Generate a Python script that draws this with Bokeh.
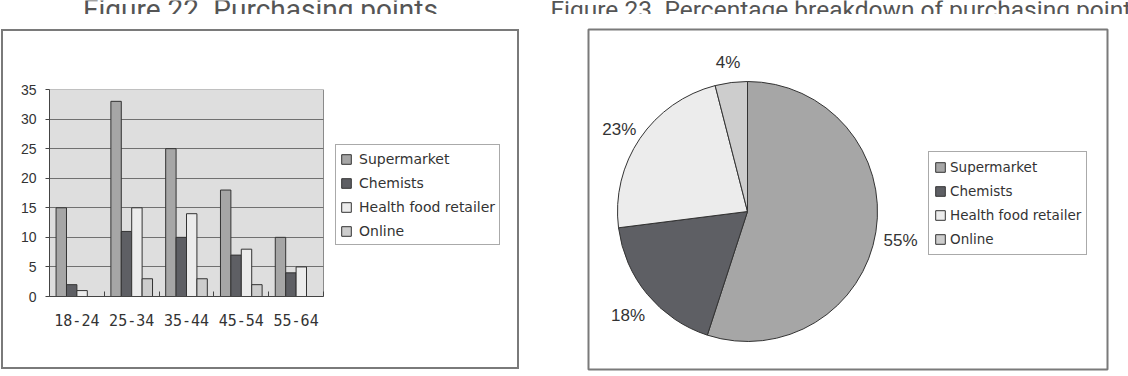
import numpy as np
from bokeh.plotting import figure
from bokeh.models import (ColumnDataSource, FixedTicker, Legend, LegendItem, Range1d, Spacer, Grid)
from bokeh.layouts import row, column
from bokeh.transform import dodge
from bokeh.core.properties import value
from bokeh.embed import file_html
from bokeh.resources import INLINE

# ---------------- data ----------------
age_groups = ["18-24", "25-34", "35-44", "45-54", "55-64"]
supermarket = [15, 33, 25, 18, 10]
chemists = [2, 11, 10, 7, 4]
health_food = [1, 15, 14, 8, 5]
online = [0, 3, 3, 2, 0]
series_names = ["Supermarket", "Chemists", "Health food retailer", "Online"]
series_colors = ["#a6a6a6", "#5e5f64", "#ececec", "#cdcdcd"]
y_ticks = [0, 5, 10, 15, 20, 25, 30, 35]
pie_shares = [55, 18, 23, 4]
pie_labels = ["55%", "18%", "23%", "4%"]
titles = ["Figure 22. Purchasing points", "Figure 23. Percentage breakdown of purchasing points"]

TEXT = "#333333"
BOX = "#7a7a7a"

# ---------------- title strip ----------------
pt = figure(width=1128, height=14, x_range=Range1d(0, 1128), y_range=Range1d(0, 14),
            x_axis_type=None, y_axis_type=None, output_backend="svg", toolbar_location=None,
            min_border=0, outline_line_color=None, frame_align=False)
pt.grid.visible = False
pt.text(x=[260], y=[5], text=[titles[0]], text_align="center", text_baseline="alphabetic",
        text_font=value("Roboto"), text_font_size="28px", text_color="#555555")
pt.text(x=[550], y=[5], text=[titles[1]], text_align="left", text_baseline="alphabetic",
        text_font=value("Roboto"), text_font_size="24.5px", text_color="#555555")

# ---------------- bar chart ----------------
keys = ["supermarket", "chemists", "health_food", "online"]
n = len(age_groups)
xpos = np.arange(n) + 0.5
src = ColumnDataSource(dict(x=xpos, supermarket=supermarket, chemists=chemists,
                            health_food=health_food, online=online))

plot_w, frame_w = 274, 466          # bar area width / full frame width (legend lives in the frame)
p1 = figure(width=514, height=336, x_range=Range1d(0, n * frame_w / plot_w),
            y_range=Range1d(0, y_ticks[-1]),
            output_backend="svg", toolbar_location=None, frame_align=False,
            min_border_left=46, min_border_right=514 - 46 - frame_w, min_border_top=58,
            min_border_bottom=71)
p1.background_fill_color = "white"
p1.border_fill_color = "white"
p1.outline_line_color = None

# grey plot area
p1.quad(left=0, right=n, bottom=0, top=y_ticks[-1], fill_color="#dedede",
        line_color="#8a8a8a", line_width=1, level="image")

bar_w = 0.19
renderers = []
for i, (k, c) in enumerate(zip(keys, series_colors)):
    off = (i - 1.5) * bar_w
    r = p1.vbar(x=dodge("x", off, range=p1.x_range), top=k, width=bar_w, bottom=0,
                source=src, fill_color=c, line_color="#333333", line_width=1)
    renderers.append(r)

xa = p1.xaxis[0]
xa.bounds = (0, n)
xa.ticker = FixedTicker(ticks=list(xpos), minor_ticks=list(range(n + 1)))
xa.major_label_overrides = {float(v): g for v, g in zip(xpos, age_groups)}
xa.major_tick_in = 0
xa.major_tick_out = 0
xa.minor_tick_in = 5
xa.minor_tick_out = 0
xa.minor_tick_line_color = "#444444"
xa.axis_line_color = "#444444"
xa.major_label_standoff = 17
xa.major_label_text_font = "DejaVu Sans Mono"
xa.major_label_text_font_size = "15px"
xa.major_label_text_color = TEXT

ya = p1.yaxis[0]
ya.ticker = FixedTicker(ticks=y_ticks)
ya.minor_tick_line_color = None
ya.major_tick_in = 0
ya.major_tick_out = 4
ya.major_tick_line_color = "#444444"
ya.axis_line_color = "#444444"
ya.major_label_standoff = 9
ya.major_label_text_font = "Liberation Sans"
ya.major_label_text_font_size = "14px"
ya.major_label_text_color = TEXT

p1.xgrid.visible = False
if "cross_bounds" in Grid.properties():
    p1.ygrid.cross_bounds = (0, n)
    p1.ygrid.grid_line_color = "#707070"
    p1.ygrid.level = "underlay"
else:
    p1.ygrid.visible = False
    p1.segment(x0=0, x1=n, y0=y_ticks, y1=y_ticks, line_color="#707070", line_width=1)

legend1 = Legend(items=[LegendItem(label=s, renderers=[r]) for s, r in zip(series_names, renderers)],
                 location=(286, 51), margin=0, padding=4, spacing=5, label_height=19,
                 glyph_width=12, glyph_height=12, label_standoff=7,
                 border_line_color="#555555", border_line_width=1,
                 background_fill_color="white", background_fill_alpha=1,
                 label_text_font="DejaVu Sans", label_text_font_size="14px",
                 label_text_color=TEXT)
p1.add_layout(legend1, "center")

# ---------------- pie chart ----------------
p2 = figure(width=608, height=362, x_range=Range1d(0, 519), y_range=Range1d(0, 340),
            x_axis_type=None, y_axis_type=None, output_backend="svg", toolbar_location=None,
            frame_align=False,
            min_border_left=68, min_border_right=21, min_border_top=15, min_border_bottom=7)
p2.grid.visible = False
p2.background_fill_color = "white"
p2.border_fill_color = "white"
p2.outline_line_color = BOX
p2.outline_line_width = 2

cx, cy, rad, rlab = 159, 158, 130, 155
shares = np.array(pie_shares, dtype=float) / sum(pie_shares)
cum = np.cumsum(shares)
start = np.pi / 2 - 2 * np.pi * (cum - shares)
end = np.pi / 2 - 2 * np.pi * cum
mid = (start + end) / 2
psrc = ColumnDataSource(dict(start=start, end=end, color=series_colors, name=series_names,
                             lx=cx + rlab * np.cos(mid), ly=cy + rlab * np.sin(mid),
                             lab=pie_labels))
wr = p2.wedge(x=cx, y=cy, radius=rad, start_angle="start", end_angle="end", direction="clock",
              fill_color="color", line_color="#333333", line_width=1, source=psrc)
p2.text(x="lx", y="ly", text="lab", source=psrc, text_align="center", text_baseline="middle",
        y_offset=5, text_font=value("Liberation Sans"), text_font_size="17px", text_color=TEXT)

legend2 = Legend(items=[LegendItem(label=s, renderers=[wr], index=i) for i, s in enumerate(series_names)],
                 location=(340, 114), margin=0, padding=5, spacing=4, label_height=20,
                 glyph_width=12, glyph_height=12, label_standoff=4,
                 border_line_color="#555555", border_line_width=1,
                 background_fill_color="white", background_fill_alpha=1,
                 label_text_font="DejaVu Sans", label_text_font_size="13.5px",
                 label_text_color=TEXT)
p2.add_layout(legend2, "center")

# ---------------- frame box around the bar chart (layout borders) ----------------
def bar(w, h):
    return Spacer(width=w, height=h, styles={"background-color": BOX})

boxed = column(
    bar(518, 2),
    row(bar(2, 336), p1, bar(2, 336), spacing=0),
    bar(518, 2),
    spacing=0,
)
left_col = column(Spacer(width=518, height=15), boxed, Spacer(width=518, height=7), spacing=0)
bottom = row(Spacer(width=1, height=362), left_col, Spacer(width=1, height=362), p2, spacing=0)
layout = column(pt, bottom, spacing=0)
open("out.html", "w").write(file_html(layout, INLINE))
